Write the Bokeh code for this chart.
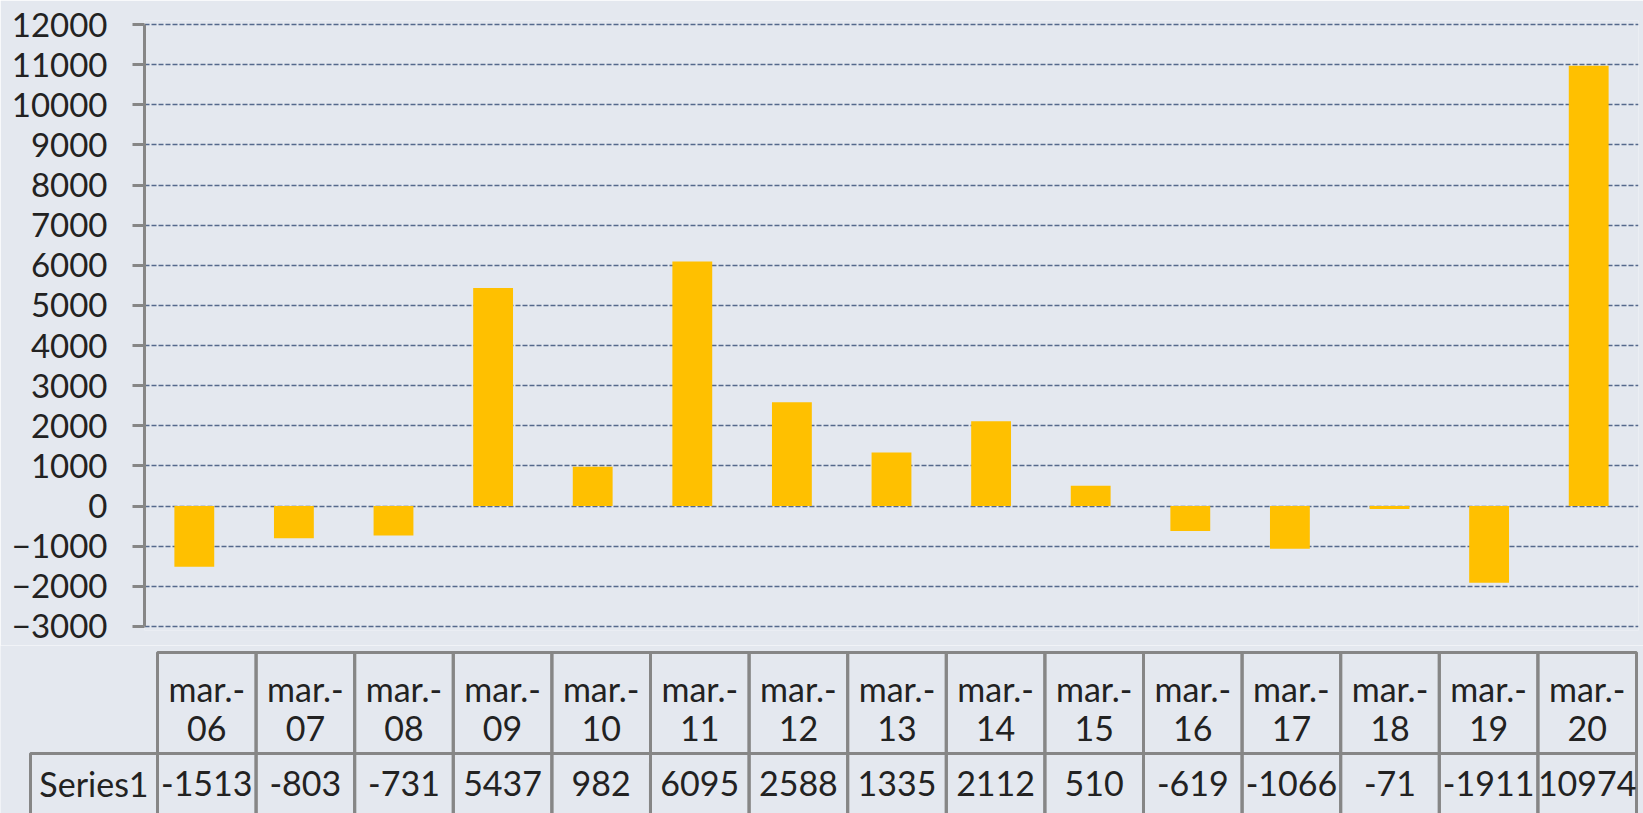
from bokeh.plotting import figure
from bokeh.models import Range1d, FixedTicker
from bokeh.layouts import column
from bokeh.embed import file_html
from bokeh.resources import INLINE
from bokeh.core.properties import value

categories = ["mar.-06", "mar.-07", "mar.-08", "mar.-09", "mar.-10", "mar.-11", "mar.-12",
              "mar.-13", "mar.-14", "mar.-15", "mar.-16", "mar.-17", "mar.-18", "mar.-19", "mar.-20"]
values = [-1513, -803, -731, 5437, 982, 6095, 2588, 1335, 2112, 510, -619, -1066, -71, -1911, 10974]
y_ticks = [-3000, -2000, -1000, 0, 1000, 2000, 3000, 4000, 5000, 6000, 7000, 8000, 9000, 10000, 11000, 12000]
series_name = "Series1"

BG = "#E4E8EF"
FONT = "Lato"
TXT = "#222222"
BORDER = "#868686"

idx = list(range(len(categories)))
xs = [i + 0.5 for i in idx]

# ---- chart ----
p = figure(width=1643, height=645, x_range=Range1d(0, 15), y_range=Range1d(-3100, 12100),
           output_backend="svg", toolbar_location=None, x_axis_location=None,
           min_border_left=144, min_border_right=5, min_border_top=20, min_border_bottom=15,
           background_fill_color=BG, border_fill_color=BG, outline_line_color=None,
           frame_align=False)
p.xgrid.visible = False
p.ygrid.ticker = FixedTicker(ticks=y_ticks)
p.ygrid.grid_line_color = "#55698c"
p.ygrid.grid_line_dash = "5 2"
p.ygrid.grid_line_width = 1.3

ax = p.yaxis[0]
ax.ticker = FixedTicker(ticks=y_ticks)
ax.bounds = (y_ticks[0], y_ticks[-1])
ax.axis_line_color = BORDER
ax.axis_line_width = 3
ax.major_tick_line_color = BORDER
ax.major_tick_line_width = 3
ax.major_tick_out = 12
ax.major_tick_in = 0
ax.minor_tick_line_color = None
ax.major_label_text_font = FONT
ax.major_label_text_font_size = "33px"
ax.major_label_text_color = TXT
ax.major_label_standoff = 25

p.vbar(x=xs, top=values, bottom=0, width=0.4, fill_color="#FFC000", line_color=None)

# ---- data table ----
t = figure(width=1643, height=168, x_range=Range1d(-1.592, 15.071), y_range=Range1d(0, 168),
           output_backend="svg", toolbar_location=None, x_axis_location=None, y_axis_location=None,
           min_border_left=0, min_border_right=0, min_border_top=0, min_border_bottom=0,
           background_fill_color=BG, border_fill_color=BG, outline_line_color=None,
           frame_align=False)
t.xgrid.visible = False
t.ygrid.visible = False

lefts = idx
rights = [i + 1 for i in idx]
t.quad(left=lefts, right=rights, bottom=60, top=161, fill_color=None, line_color=BORDER, line_width=3)
t.quad(left=lefts, right=rights, bottom=-5, top=60, fill_color=None, line_color=BORDER, line_width=3)
t.quad(left=[-1.288], right=[0], bottom=-5, top=60, fill_color=None, line_color=BORDER, line_width=3)

tops = [c[:5] for c in categories]
years = [c[5:] for c in categories]
common = dict(text_font=value(FONT), text_font_size=value("34px"), text_color=TXT,
              text_align="center", text_baseline="middle")
t.text(x=xs, y=[125] * len(xs), text=tops, **common)
t.text(x=xs, y=[85] * len(xs), text=years, **common)
t.text(x=xs, y=[30] * len(xs), text=[str(v) for v in values], **common)
t.text(x=[-0.644], y=[30], text=[series_name], **common)

layout = column(p, t, spacing=0)
open("out.html", "w").write(file_html(layout, INLINE))
